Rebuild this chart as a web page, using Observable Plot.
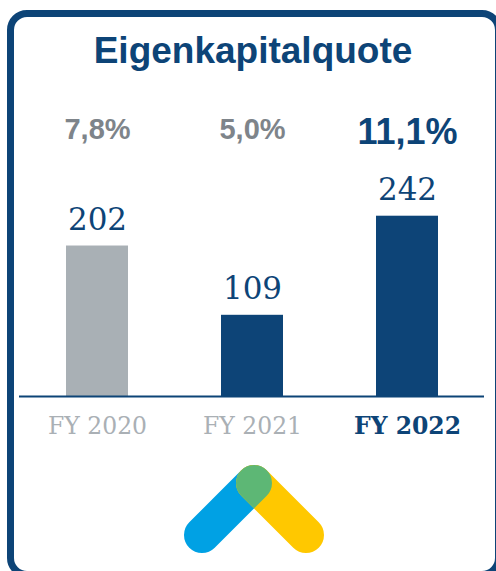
<!DOCTYPE html>
<html>
<head>
<meta charset="utf-8">
<script src="https://cdn.jsdelivr.net/npm/d3@7"></script>
<script src="https://cdn.jsdelivr.net/npm/@observablehq/plot@0.6"></script>
<style>
  html, body { margin: 0; padding: 0; background: #fff; }
  #wrap { position: relative; width: 496px; height: 571px; overflow: hidden; background: #fff; }
  #frame { position: absolute; left: 7px; top: 10px; width: 495px; height: 568px; box-sizing: border-box;
           border: 7px solid #0d4477; border-radius: 20px; }
  #title { position: absolute; left: 0; width: 506px; top: 32px; text-align: center;
           font-family: "Liberation Sans", Arial, sans-serif; font-weight: bold; font-size: 37px; line-height: 37px;
           color: #0d4477; }
  #chart { position: absolute; left: 0; top: 0; }
  #logo { position: absolute; left: 0; top: 0; }
</style>
</head>
<body>
<div id="wrap">
  <div id="frame"></div>
  <div id="title">Eigenkapitalquote</div>
  <div id="chart"></div>
  <svg id="logo" width="496" height="571" viewBox="0 0 496 571">
    <defs>
      <mask id="blueMask" maskUnits="userSpaceOnUse" x="0" y="0" width="496" height="571">
        <rect x="0" y="0" width="496" height="571" fill="black"/>
        <line x1="202" y1="535" x2="254" y2="483" stroke="white" stroke-width="36" stroke-linecap="round"/>
      </mask>
    </defs>
    <line x1="202" y1="535" x2="254" y2="483" stroke="#00a1e4" stroke-width="36" stroke-linecap="round"/>
    <line x1="306" y1="535" x2="254" y2="483" stroke="#ffc800" stroke-width="36" stroke-linecap="round"/>
    <line x1="306" y1="535" x2="254" y2="483" stroke="#5db775" stroke-width="36" stroke-linecap="round" mask="url(#blueMask)"/>
  </svg>
</div>
<script>
const categories = ["FY 2020", "FY 2021", "FY 2022"];
const values = [202, 109, 242];
const ratios = ["7,8%", "5,0%", "11,1%"];
const highlight = [false, false, true];

const navy = "#0d4477";
const data = categories.map((c, i) => ({category: c, value: values[i], ratio: ratios[i], hl: highlight[i], idx: i}));

const chart = Plot.plot({
  width: 496,
  height: 571,
  marginLeft: 19,
  marginRight: 12,
  marginTop: 172.5,
  marginBottom: 175,
  style: {background: "transparent", overflow: "visible"},
  x: {domain: categories, paddingInner: 0.6, paddingOuter: 0.3, axis: null},
  y: {domain: [0, 300], axis: null},
  marks: [
    Plot.barY(data, {x: "category", y: "value", fill: d => d.idx === 0 ? "#a9b0b5" : navy}),
    Plot.ruleY([0], {stroke: navy, strokeWidth: 2}),
    Plot.text(data, {x: "category", y: "value", text: d => String(d.value), dy: -16, lineAnchor: "bottom",
      fill: navy, fontSize: 31, fontFamily: "DejaVu Serif, serif"}),
    Plot.text(data.filter(d => !d.hl), {x: "category", text: "ratio", frameAnchor: "top", dy: -54.5, lineAnchor: "top",
      fill: "#7e848a", fontSize: 29, fontWeight: "bold", fontFamily: "Liberation Sans, Arial, sans-serif"}),
    Plot.text(data.filter(d => d.hl), {x: "category", text: "ratio", frameAnchor: "top", dy: -54.5, lineAnchor: "top",
      fill: navy, fontSize: 36, fontWeight: "bold", fontFamily: "Liberation Sans, Arial, sans-serif"}),
    Plot.text(data.filter(d => !d.hl), {x: "category", text: "category", frameAnchor: "bottom", dy: 37, lineAnchor: "bottom",
      fill: "#aab0b5", fontSize: 23.5, fontFamily: "DejaVu Serif, serif"}),
    Plot.text(data.filter(d => d.hl), {x: "category", text: "category", frameAnchor: "bottom", dy: 37, lineAnchor: "bottom",
      fill: navy, fontSize: 23.5, fontWeight: "bold", fontFamily: "DejaVu Serif, serif"})
  ]
});
document.getElementById("chart").appendChild(chart);
</script>
</body>
</html>
